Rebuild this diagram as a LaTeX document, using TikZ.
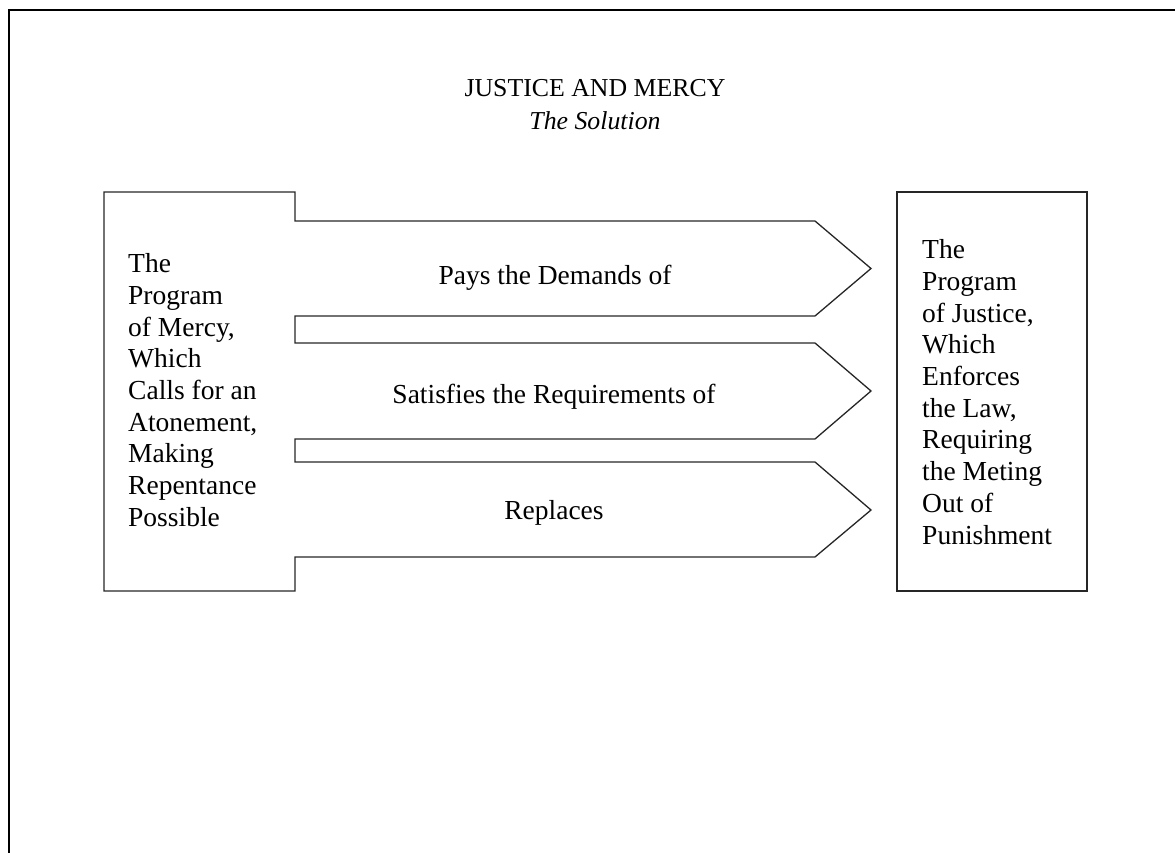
\documentclass[tikz,border=0pt]{standalone}
\usepackage{fontspec}
\setmainfont{Liberation Serif}
\begin{document}
\begin{tikzpicture}[x=1pt,y=-1pt,
  outline/.style={draw=black!85,line width=1.3pt,line join=miter},
  frameline/.style={draw=black,line width=2pt},
  bodytext/.style={inner sep=0pt,font=\fontsize{27.5}{31.7}\selectfont},
  sidetext/.style={bodytext,align=left,anchor=west},
  arrowlabel/.style={bodytext,anchor=base},
  titletext/.style={inner sep=0pt,anchor=base,font=\fontsize{25.8}{31}\selectfont}]
\useasboundingbox (0,0) rectangle (1175,853);
% page edge
\draw[frameline] (9,853) -- (9,10.5) -- (1175,10.5);
% heading
\node[titletext] (title) at (595,97) {JUSTICE AND MERCY};
\node[titletext,font=\fontsize{25.8}{31}\selectfont\itshape] (subtitle) at (595,130) {The Solution};
% mercy block with its three arrows
\draw[outline] (104,192) -- (295,192) -- (295,221) -- (815,221) -- (871,268.5)
  -- (815,316) -- (295,316) -- (295,343) -- (815,343) -- (871,391)
  -- (815,439) -- (295,439) -- (295,462) -- (815,462) -- (871,510)
  -- (815,557) -- (295,557) -- (295,591) -- (104,591) -- cycle;
% justice block
\draw[outline] (897,192) rectangle (1087,591);
% texts
\node[sidetext] (mercy) at (128,390) {The\\Program\\of Mercy,\\Which\\Calls for an\\Atonement,\\Making\\Repentance\\Possible};
\node[sidetext] (justice) at (922,392) {The\\Program\\of Justice,\\Which\\Enforces\\the Law,\\Requiring\\the Meting\\Out of\\Punishment};
\node[arrowlabel] (pays) at (555,284) {Pays the Demands of};
\node[arrowlabel] (satisfies) at (554,403) {Satisfies the Requirements of};
\node[arrowlabel] (replaces) at (554,519) {Replaces};
\end{tikzpicture}
\end{document}
